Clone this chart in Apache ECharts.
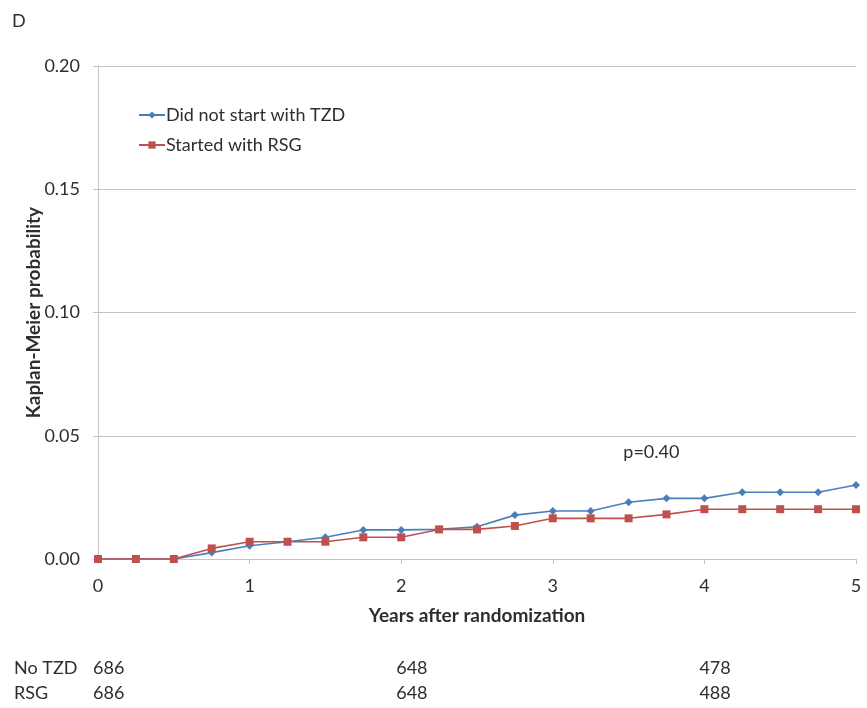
<!DOCTYPE html>
<html>
<head>
<meta charset="utf-8">
<title>Kaplan-Meier</title>
<script src="https://cdn.jsdelivr.net/npm/echarts@6/dist/echarts.min.js"></script>
<style>
  html, body { margin: 0; padding: 0; background: #fff; }
  #main { width: 867px; height: 708px; }
</style>
</head>
<body>
<div id="main"></div>
<script>
// time points (years after randomization)
var years = [0, 0.25, 0.5, 0.75, 1, 1.25, 1.5, 1.75, 2, 2.25, 2.5, 2.75, 3, 3.25, 3.5, 3.75, 4, 4.25, 4.5, 4.75, 5];
// Kaplan-Meier probabilities
var noTZD = [0, 0, 0, 0.0026, 0.0054, 0.0070, 0.0088, 0.0118, 0.0118, 0.0120, 0.0131, 0.0178, 0.0195, 0.0195, 0.0230, 0.0246, 0.0246, 0.0271, 0.0271, 0.0271, 0.0300];
var rsg = [0, 0, 0, 0.0043, 0.0070, 0.0070, 0.0070, 0.0088, 0.0088, 0.0120, 0.0120, 0.0134, 0.0165, 0.0165, 0.0165, 0.0181, 0.0202, 0.0202, 0.0202, 0.0202, 0.0202];
var seriesNames = ['Did not start with TZD', 'Started with RSG'];

// numbers at risk
var atRiskYears = [0, 2, 4];
var atRiskNoTZD = [686, 648, 478];
var atRiskRSG = [686, 648, 488];
var rowLabels = ['No TZD', 'RSG'];

var font = 'Lato, "Open Sans", sans-serif';
var txt = '#2e2e2e';
var gridCol = '#c4c4c4';
var fs = 18;

function pairs(xs, ys) {
  var out = [];
  for (var i = 0; i < xs.length; i++) out.push([xs[i], ys[i]]);
  return out;
}

var chart = echarts.init(document.getElementById('main'));
chart.setOption({
  animation: false,
  textStyle: { fontFamily: font, color: txt },
  grid: { left: 98, right: 11, top: 66, bottom: 149, containLabel: false },
  legend: {
    orient: 'vertical',
    left: 133,
    top: 101,
    itemWidth: 26,
    itemHeight: 9,
    itemGap: 12,
    textStyle: { fontSize: fs, color: txt, fontFamily: font, padding: [0, 0, 0, -4] },
    data: seriesNames
  },
  xAxis: {
    type: 'value',
    min: 0, max: 5, interval: 1,
    name: 'Years after randomization',
    nameLocation: 'middle',
    nameGap: 47,
    nameTextStyle: { fontSize: 19, fontWeight: 'bold', color: txt },
    axisLine: { show: true, lineStyle: { color: gridCol, width: 1 } },
    axisTick: { show: true, length: 5, lineStyle: { color: gridCol } },
    axisLabel: { fontSize: fs, color: txt, margin: 18 },
    splitLine: { show: false }
  },
  yAxis: {
    type: 'value',
    min: 0, max: 0.2, interval: 0.05,
    name: 'Kaplan-Meier probability',
    nameLocation: 'middle',
    nameGap: 55,
    nameMoveOverlap: false,
    nameTextStyle: { fontSize: 19, fontWeight: 'bold', color: txt },
    axisLine: { show: true, lineStyle: { color: gridCol, width: 1 } },
    axisTick: { show: true, length: 5, lineStyle: { color: gridCol } },
    axisLabel: { fontSize: fs, color: txt, margin: 18, formatter: function (v) { return v.toFixed(2); } },
    splitLine: { show: true, lineStyle: { color: gridCol, width: 1 } }
  },
  series: [
    {
      name: seriesNames[0],
      type: 'line',
      data: pairs(years, noTZD),
      symbol: 'diamond',
      symbolSize: 8,
      itemStyle: { color: '#4a7ebb' },
      lineStyle: { color: '#4a7ebb', width: 1.6 },
      z: 2
    },
    {
      name: seriesNames[1],
      type: 'line',
      data: pairs(years, rsg),
      symbol: 'rect',
      symbolSize: 8,
      itemStyle: { color: '#c0504d' },
      lineStyle: { color: '#c0504d', width: 1.6 },
      z: 3
    }
  ]
});

// labels placed through the axis scales
var graphics = [
  { type: 'text', left: 12, top: 12, style: { text: 'D', fontSize: fs, fill: txt, fontFamily: font } }
];
var pPos = chart.convertToPixel({ gridIndex: 0 }, [3.65, 0.0435]);
graphics.push({
  type: 'text', x: pPos[0], y: pPos[1],
  style: { text: 'p=0.40', fontSize: fs, fill: txt, fontFamily: font, align: 'center', verticalAlign: 'middle' }
});
var rowY = [668, 693];
var rows = [atRiskNoTZD, atRiskRSG];
for (var r = 0; r < rows.length; r++) {
  graphics.push({
    type: 'text', x: 14, y: rowY[r],
    style: { text: rowLabels[r], fontSize: fs, fill: txt, fontFamily: font, verticalAlign: 'middle' }
  });
  for (var k = 0; k < atRiskYears.length; k++) {
    var px = chart.convertToPixel({ xAxisIndex: 0 }, atRiskYears[k]);
    graphics.push({
      type: 'text', x: px - 5, y: rowY[r],
      style: { text: String(rows[r][k]), fontSize: fs, fill: txt, fontFamily: font, verticalAlign: 'middle' }
    });
  }
}
chart.setOption({ graphic: graphics });
</script>
</body>
</html>
